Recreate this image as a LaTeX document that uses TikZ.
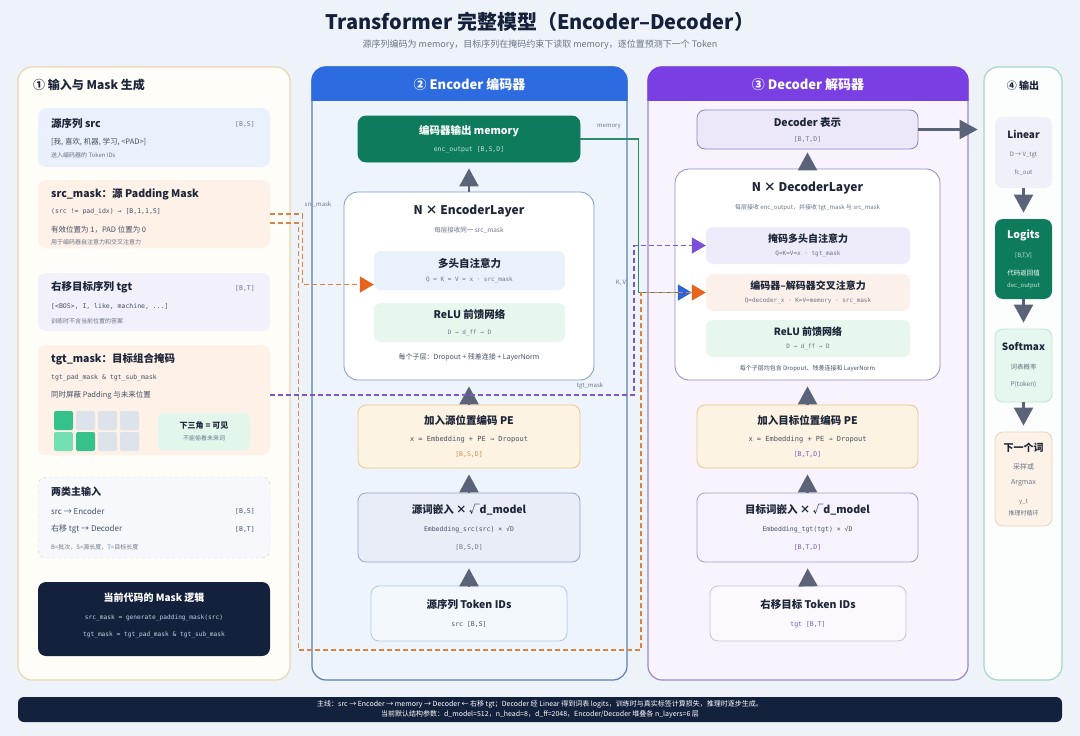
\documentclass[tikz,border=0pt]{standalone}
\usepackage{fontspec}
\setmainfont{Noto Sans CJK SC}
\setmonofont{DejaVu Sans Mono}
\usetikzlibrary{arrows.meta, positioning}

\newcommand{\fsz}[1]{\fontsize{#1}{#1}\selectfont}

\definecolor{bgc}{HTML}{EEF3F9}
\definecolor{ink}{HTML}{1D2538}
\definecolor{titleink}{HTML}{15203A}
\definecolor{muted}{HTML}{6B7587}
\definecolor{codegray}{HTML}{465063}
\definecolor{arrowgray}{HTML}{5A6377}
\definecolor{navy}{HTML}{14213D}
\definecolor{inline}{HTML}{E9D6B2}
\definecolor{inbody}{HTML}{FFFDF8}
\definecolor{srcfill}{HTML}{E9F1FC}
\definecolor{peach}{HTML}{FDF1E8}
\definecolor{lavender}{HTML}{F1F0FB}
\definecolor{cellon}{HTML}{34C28A}
\definecolor{celldim}{HTML}{74DFB0}
\definecolor{celloff}{HTML}{DDE3EA}
\definecolor{mint}{HTML}{E3F6EC}
\definecolor{inputfill}{HTML}{F6F8FB}
\definecolor{dashgray}{HTML}{C9D1DC}
\definecolor{logiccode}{HTML}{C8D1E0}
\definecolor{encblue}{HTML}{2D6BE0}
\definecolor{encline}{HTML}{5C7FB5}
\definecolor{encbody}{HTML}{EDF4FC}
\definecolor{layerblue}{HTML}{7A9CC8}
\definecolor{attnblue}{HTML}{E8F1FC}
\definecolor{ffngreen}{HTML}{E7F7EE}
\definecolor{memgreen}{HTML}{0E7B5C}
\definecolor{memcode}{HTML}{BFE6D6}
\definecolor{peborder}{HTML}{EEC68C}
\definecolor{pefill}{HTML}{FDF3E3}
\definecolor{petag}{HTML}{D08A45}
\definecolor{embborder}{HTML}{95A6C6}
\definecolor{embfill}{HTML}{E8EDF7}
\definecolor{tokborder}{HTML}{B0C8E4}
\definecolor{tokfill}{HTML}{F3F8FD}
\definecolor{decpurple}{HTML}{7A3FE3}
\definecolor{decline}{HTML}{9B86CF}
\definecolor{decbody}{HTML}{F8F3FD}
\definecolor{declayerline}{HTML}{9488C8}
\definecolor{decoutfill}{HTML}{ECE8FA}
\definecolor{decoutline}{HTML}{8C83C0}
\definecolor{selffill}{HTML}{EEECFA}
\definecolor{crossfill}{HTML}{FCF1EA}
\definecolor{dectag}{HTML}{7B55C4}
\definecolor{decembfill}{HTML}{F6F3FC}
\definecolor{decembline}{HTML}{A79BCC}
\definecolor{dectokfill}{HTML}{FBF9FE}
\definecolor{dectokline}{HTML}{C9C0E3}
\definecolor{outline}{HTML}{A5D8C4}
\definecolor{outbody}{HTML}{FBFEFD}
\definecolor{linfill}{HTML}{EEF1F7}
\definecolor{softfill}{HTML}{E5F7EE}
\definecolor{softline}{HTML}{BEE4D2}
\definecolor{nextfill}{HTML}{FDF2E8}
\definecolor{nextline}{HTML}{EBD2B6}
\definecolor{memlinegreen}{HTML}{2F8A68}
\definecolor{maskorange}{HTML}{DB8444}
\definecolor{maskpurple}{HTML}{7D55CC}
\definecolor{tiporange}{HTML}{E8641C}
\definecolor{tippurple}{HTML}{7B4FDA}
\definecolor{tipblue}{HTML}{2D62D8}

\begin{document}
\begin{tikzpicture}[x=1pt, y=-1pt,
    every node/.style={inner sep=0pt, text=ink},
    panel/.style={draw, rounded corners=14pt, line width=1.2pt},
    card/.style={rounded corners=8pt, minimum width=232pt},
    box/.style={draw, rounded corners=8pt, line width=0.8pt, align=center, font=\fontsize{7}{12}\selectfont},
    subbox/.style={rounded corners=7pt, align=center, font=\fontsize{7}{12}\selectfont},
    headtxt/.style={font=\fsz{13}\bfseries, text=white},
    cardtitle/.style={anchor=west, font=\fsz{10.5}\bfseries},
    cardtag/.style={anchor=east, font=\ttfamily\fsz{6.5}, text=muted},
    cardcode/.style={anchor=west, font=\ttfamily\fsz{6.5}, text=codegray},
    cardnote/.style={anchor=west, font=\fsz{7.5}, text=codegray},
    cardsmall/.style={anchor=west, font=\fsz{6}, text=muted},
    flow/.style={-{Triangle[length=18pt,width=19pt]}, line width=2.2pt, draw=arrowgray, shorten >=6pt},
    memline/.style={draw=memlinegreen, line width=1.8pt},
    srcdash/.style={draw=maskorange, line width=1.3pt, dash pattern=on 5pt off 3pt},
    tgtdash/.style={draw=maskpurple, line width=1.3pt, dash pattern=on 5pt off 3pt},
    linklabel/.style={font=\fsz{6}, text=muted}
  ]
  \fill[bgc] (0,0) rectangle (1080,736);
  \useasboundingbox (0,0) rectangle (1080,736);

  \node[font=\fsz{20}\bfseries, text=titleink] (title) at (540,22) {Transformer 完整模型（Encoder–Decoder）};
  \node[font=\fsz{9}, text=muted] (subtitle) at (540,45) {源序列编码为 memory，目标序列在掩码约束下读取 memory，逐位置预测下一个 Token};

  % panels
  \node[panel, draw=inline, fill=inbody, minimum width=272pt, minimum height=613pt] (inpanel) at (154,373.5) {};
  \node[panel, draw=encline, fill=encbody, minimum width=315pt, minimum height=613pt] (encpanel) at (469.5,373.5) {};
  \node[panel, draw=decline, fill=decbody, minimum width=320pt, minimum height=613pt] (decpanel) at (808,373.5) {};
  \node[panel, draw=outline, fill=outbody, minimum width=78pt, minimum height=613pt] (outpanel) at (1023,373.5) {};
  \begin{scope}
    \clip[rounded corners=14pt] (encpanel.north west) rectangle (encpanel.south east);
    \fill[encblue] ([xshift=-1pt]encpanel.north west) rectangle ([xshift=1pt,yshift=-35pt]encpanel.north east);
  \end{scope}
  \begin{scope}
    \clip[rounded corners=14pt] (decpanel.north west) rectangle (decpanel.south east);
    \fill[decpurple] ([xshift=-1pt]decpanel.north west) rectangle ([xshift=1pt,yshift=-35pt]decpanel.north east);
  \end{scope}
  \node[headtxt] (enchead) at (469.5,84.5) {② Encoder 编码器};
  \node[headtxt] (dechead) at (808,84.5) {③ Decoder 解码器};
  \node[font=\fsz{10}\bfseries] (outhead) at (1023,86) {④ 输出};

  % inputs and masks
  \node[anchor=west, font=\fsz{12}\bfseries] (inhead) at (33,85) {① 输入与 Mask 生成};

  \node[card, fill=srcfill, minimum height=59pt] (srccard) at (154,137.5) {};
  \node[cardtitle] (srctitle) at (51,124) {源序列 src};
  \node[cardtag] (srctag) at (255,124) {[B,S]};
  \node[anchor=west, font=\fsz{7.5}, text=codegray] (srctokens) at (51,142) {[我, 喜欢, 机器, 学习, <PAD>]};
  \node[cardsmall] (srcnote) at (51,155) {送入编码器的 Token IDs};

  \node[card, fill=peach, minimum height=68pt] (srcmask) at (154,214) {};
  \node[cardtitle] (srcmasktitle) at (51,194) {src\_mask：源 Padding Mask};
  \node[cardcode] (srcmaskcode) at (51,212) {(src != pad\_idx) → [B,1,1,S]};
  \node[cardnote] (srcmasknote) at (51,230) {有效位置为 1，PAD 位置为 0};
  \node[cardsmall] (srcmaskuse) at (51,242) {用于编码器自注意力和交叉注意力};

  \node[card, fill=lavender, minimum height=58pt] (tgtcard) at (154,302) {};
  \node[cardtitle] (tgttitle) at (51,287) {右移目标序列 tgt};
  \node[cardtag] (tgttag) at (255,288) {[B,T]};
  \node[cardcode] (tgttokens) at (51,306) {[<BOS>, I, like, machine, ...]};
  \node[cardsmall] (tgtnote) at (51,321) {训练时不含当前位置的答案};

  \node[card, fill=peach, minimum height=110pt] (tgtmask) at (154,400) {};
  \node[cardtitle] (tgtmasktitle) at (51,359) {tgt\_mask：目标组合掩码};
  \node[cardcode] (tgtmaskcode) at (51,378) {tgt\_pad\_mask \& tgt\_sub\_mask};
  \node[cardnote] (tgtmasknote) at (51,395) {同时屏蔽 Padding 与未来位置};
  \foreach \c/\r/\col in {0/0/cellon,1/0/celloff,2/0/celloff,3/0/celloff,0/1/celldim,1/1/cellon,2/1/celloff,3/1/celloff}
    \fill[\col, rounded corners=2pt] (54+22*\c,411+21*\r) rectangle ++(19,19);
  \node[card, fill=mint, minimum width=92pt, minimum height=37pt, rounded corners=6pt, align=center, font=\fontsize{6}{10}\selectfont] (trilegend) at (204,431.5) {{\fsz{8}\bfseries 下三角 = 可见}\\[2pt]{\color{muted}不能偷看未来词}};

  \node[card, fill=inputfill, draw=dashgray, dashed, minimum height=81pt] (inputs) at (154,517.5) {};
  \node[cardtitle, font=\fsz{10}\bfseries] (inputstitle) at (51,492) {两类主输入};
  \node[cardnote, font=\fsz{8}] (inputsrc) at (51,511) {src → Encoder};
  \node[cardtag, text=codegray] (inputsrctag) at (255,511) {[B,S]};
  \node[cardnote, font=\fsz{8}] (inputtgt) at (51,529) {右移 tgt → Decoder};
  \node[cardtag, text=codegray] (inputtgttag) at (255,529) {[B,T]};
  \node[cardsmall] (inputsnote) at (51,547) {B=批次，S=源长度，T=目标长度};

  \node[card, fill=navy, minimum height=74pt] (masklogic) at (154,619) {};
  \node[font=\fsz{10}\bfseries, text=white] (masklogictitle) at (154,598) {当前代码的 Mask 逻辑};
  \node[font=\ttfamily\fsz{6.2}, text=logiccode] (masklogicsrc) at (154,618) {src\_mask = generate\_padding\_mask(src)};
  \node[font=\ttfamily\fsz{6.2}, text=logiccode] (masklogictgt) at (154,635) {tgt\_mask = tgt\_pad\_mask \& tgt\_sub\_mask};

  % encoder
  \node[box, draw=memgreen, fill=memgreen, text=white, minimum width=222pt, minimum height=46pt] (memory) at (469,139) {{\fsz{10.5}\bfseries 编码器输出 memory}\\[5pt]{\ttfamily\fsz{6.5}\color{memcode}enc\_output [B,S,D]}};
  \node[box, draw=layerblue, fill=white, rounded corners=14pt, minimum width=250pt, minimum height=188pt] (enclayer) at (469,286) {};
  \node[font=\fsz{12}\bfseries] (enclayertitle) at (469,211) {N × EncoderLayer};
  \node[font=\fsz{6.5}, text=muted] (enclayernote) at (469,230) {每层接收同一 src\_mask};
  \node[subbox, fill=attnblue, minimum width=191pt, minimum height=39pt] (encattn) at (469.5,270.5) {{\fsz{10.5}\bfseries 多头自注意力}\\[2pt]{\ttfamily\fsz{6}\color{muted}Q = K = V = x · src\_mask}};
  \node[subbox, fill=ffngreen, minimum width=191pt, minimum height=39pt] (encffn) at (469.5,322.5) {{\fsz{10.5}\bfseries ReLU 前馈网络}\\[4pt]{\ttfamily\fsz{6}\color{muted}D → d\_ff → D}};
  \node[font=\fsz{7}, text=codegray] (enclayerfoot) at (469,357) {每个子层：Dropout + 残差连接 + LayerNorm};
  \node[box, draw=peborder, fill=pefill, minimum width=222pt, minimum height=63pt] (encpe) at (469,436.5) {{\fsz{10.5}\bfseries 加入源位置编码 PE}\\[5pt]{\ttfamily\fsz{7}\color{codegray}x = Embedding + PE → Dropout}\\[3pt]{\ttfamily\fsz{6.5}\color{petag}[B,S,D]}};
  \node[box, draw=embborder, fill=embfill, minimum width=222pt, minimum height=69pt] (encemb) at (469,527.5) {{\fsz{10.5}\bfseries 源词嵌入 × √d\_model}\\[6pt]{\ttfamily\fsz{6.5}\color{codegray}Embedding\_src(src) × √D}\\[6pt]{\ttfamily\fsz{6.5}\color{muted}[B,S,D]}};
  \node[box, draw=tokborder, fill=tokfill, minimum width=196pt, minimum height=55pt] (enctok) at (469,613.5) {{\fsz{10.5}\bfseries 源序列 Token IDs}\\[6pt]{\ttfamily\fsz{6.5}\color{codegray}src [B,S]}};

  % decoder
  \node[box, draw=decoutline, fill=decoutfill, minimum width=221pt, minimum height=39pt] (decout) at (807.5,129.5) {{\fsz{10.5}\bfseries Decoder 表示}\\[3pt]{\ttfamily\fsz{6.5}\color{muted}[B,T,D]}};
  \node[box, draw=declayerline, fill=white, rounded corners=14pt, minimum width=265pt, minimum height=211pt] (declayer) at (807.5,274.5) {};
  \node[font=\fsz{12}\bfseries] (declayertitle) at (807.5,188) {N × DecoderLayer};
  \node[font=\fsz{6}, text=muted] (declayernote) at (807.5,208) {每层接收 enc\_output，并接收 tgt\_mask 与 src\_mask};
  \node[subbox, fill=selffill, minimum width=204pt, minimum height=37pt] (decself) at (808,245.5) {{\fsz{10}\bfseries 掩码多头自注意力}\\[1.5pt]{\ttfamily\fsz{6}\color{muted}Q=K=V=x · tgt\_mask}};
  \node[subbox, fill=crossfill, minimum width=204pt, minimum height=37pt] (deccross) at (808,292.5) {{\fsz{10}\bfseries 编码器–解码器交叉注意力}\\[1.5pt]{\ttfamily\fsz{6}\color{muted}Q=decoder\_x · K=V=memory · src\_mask}};
  \node[subbox, fill=ffngreen, minimum width=204pt, minimum height=37pt] (decffn) at (808,338.5) {{\fsz{10}\bfseries ReLU 前馈网络}\\[1.5pt]{\ttfamily\fsz{6}\color{muted}D → d\_ff → D}};
  \node[font=\fsz{6}, text=codegray] (declayerfoot) at (807.5,369) {每个子层均包含 Dropout、残差连接和 LayerNorm};
  \node[box, draw=peborder, fill=pefill, minimum width=221pt, minimum height=63pt] (decpe) at (807.5,436.5) {{\fsz{10.5}\bfseries 加入目标位置编码 PE}\\[5pt]{\ttfamily\fsz{7}\color{codegray}x = Embedding + PE → Dropout}\\[3pt]{\ttfamily\fsz{6.5}\color{dectag}[B,T,D]}};
  \node[box, draw=decembline, fill=decembfill, minimum width=221pt, minimum height=69pt] (decemb) at (807.5,527.5) {{\fsz{10.5}\bfseries 目标词嵌入 × √d\_model}\\[6pt]{\ttfamily\fsz{6.5}\color{codegray}Embedding\_tgt(tgt) × √D}\\[6pt]{\ttfamily\fsz{6.5}\color{dectag}[B,T,D]}};
  \node[box, draw=dectokline, fill=dectokfill, minimum width=196pt, minimum height=55pt] (dectok) at (808,613.5) {{\fsz{10.5}\bfseries 右移目标 Token IDs}\\[6pt]{\ttfamily\fsz{6.5}\color{dectag}tgt [B,T]}};

  % output
  \node[box, draw=none, fill=linfill, minimum width=57pt, minimum height=71pt] (linear) at (1023.5,152.5) {{\fsz{10}\bfseries Linear}\\[6pt]{\fsz{6}\color{muted}D → V\_tgt}\\[6pt]{\fsz{6}\color{muted}fc\_out}};
  \node[box, draw=none, fill=memgreen, text=white, minimum width=57pt, minimum height=80pt] (logits) at (1023.5,259) {{\fsz{10.5}\bfseries Logits}\\[7pt]{\fsz{6}\color{memcode}[B,T,V]}\\[6pt]{\fsz{6.5}代码返回值}\\[0pt]{\fsz{6}\color{memcode}dec\_output}};
  \node[box, draw=softline, fill=softfill, minimum width=57pt, minimum height=73pt] (softmax) at (1023.5,365.5) {{\fsz{10}\bfseries Softmax}\\[7pt]{\fsz{6.5}\color{muted}词表概率}\\[5pt]{\fsz{6.5}\color{muted}P(token)}};
  \node[box, draw=nextline, fill=nextfill, minimum width=57pt, minimum height=94pt] (nextword) at (1023.5,479) {{\fsz{10}\bfseries 下一个词}\\[6pt]{\fsz{7}\color{muted}采样或}\\[3pt]{\fsz{7}\color{muted}Argmax}\\[7pt]{\fsz{6}\color{muted}y\_t}\\[0pt]{\fsz{6}\color{muted}推理时循环}};

  % main flow
  \draw[flow] (enctok.north) -- (encemb.south);
  \draw[flow] (encemb.north) -- (encpe.south);
  \draw[flow] (encpe.north) -- (enclayer.south);
  \draw[flow] (enclayer.north) -- (memory.south);
  \draw[flow] (dectok.north) -- (decemb.south);
  \draw[flow] (decemb.north) -- (decpe.south);
  \draw[flow] (decpe.north) -- (declayer.south);
  \draw[flow, shorten >=3pt] (declayer.north) -- (decout.south);
  \draw[flow, shorten >=17pt] (decout.east) -- (decout.east -| linear.west);
  \draw[flow] (linear.south) -- (logits.north);
  \draw[flow] (logits.south) -- (softmax.north);
  \draw[flow] (softmax.south) -- (nextword.north);

  % memory and masks
  \coordinate (srcbus) at (641,650);
  \coordinate (tgtbus) at (634,395);
  \draw[memline, -{Triangle[length=14pt,width=16pt,color=tipblue]}] (memory.east) -- ++(58,0) |- ([xshift=-14pt]deccross.west);
  \draw[srcdash, -{Triangle[length=14pt,width=16pt,color=tiporange]}] (srcmask.east) -- ++(32,0) |- ([yshift=-14pt]encattn.west);
  \draw[srcdash, -{Triangle[length=14pt,width=16pt,color=tiporange]}] ([yshift=-9pt]srcmask.east) -- ++(28,0) |- (srcbus) |- (deccross.west);
  \draw[tgtdash, -{Triangle[length=14pt,width=16pt,color=tippurple]}] ([yshift=5pt]tgtmask.east) -- (tgtbus) |- (decself.west);
  \node[linklabel] (memlabel) at (609,127) {memory};
  \node[linklabel] (srcmasklabel) at (318,205) {src\_mask};
  \node[linklabel] (tgtmasklabel) at (590,386) {tgt\_mask};
  \node[linklabel] (kvlabel) at (621,283) {K, V};

  \node[fill=navy, rounded corners=6pt, minimum width=1044pt, minimum height=25pt, align=center, text=white, font=\fontsize{7}{10}\selectfont] (footer) at (540,709.5) {主线：src → Encoder → memory → Decoder ← 右移 tgt；Decoder 经 Linear 得到词表 logits，训练时与真实标签计算损失，推理时逐步生成。\\当前默认结构参数：d\_model=512，n\_head=8，d\_ff=2048，Encoder/Decoder 堆叠各 n\_layers=6 层};
\end{tikzpicture}
\end{document}
